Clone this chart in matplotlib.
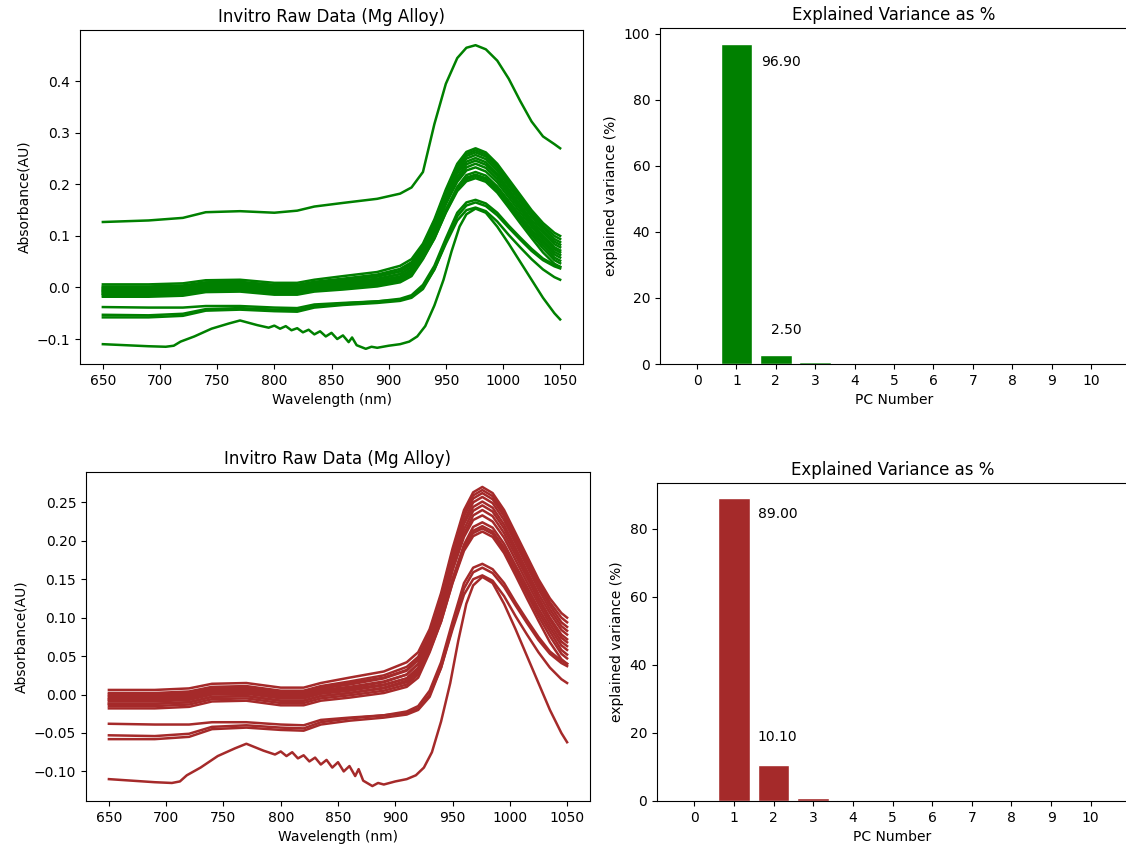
import numpy as np
import matplotlib.pyplot as plt

# ------------------------------------------------------------------
# spectra (absorbance vs wavelength)
# ------------------------------------------------------------------
wl = [650, 690, 720, 740, 770, 800, 820, 835, 860, 890, 910, 920, 930,
      940, 950, 960, 968, 976, 985, 995, 1005, 1015, 1025, 1035, 1045, 1050]

band_1 = [0.006, 0.006, 0.008, 0.014, 0.015, 0.009, 0.009, 0.015, 0.022, 0.030, 0.042, 0.055, 0.085,
          0.132, 0.190, 0.240, 0.263, 0.270, 0.262, 0.240, 0.210, 0.180, 0.150, 0.125, 0.106, 0.100]
band_2 = [0.002, 0.002, 0.004, 0.010, 0.011, 0.005, 0.005, 0.011, 0.017, 0.025, 0.036, 0.049, 0.080,
          0.128, 0.186, 0.236, 0.259, 0.266, 0.258, 0.236, 0.206, 0.176, 0.146, 0.120, 0.100, 0.094]
band_3 = [-0.002, -0.002, 0.000, 0.007, 0.008, 0.002, 0.002, 0.008, 0.013, 0.021, 0.031, 0.045, 0.077,
          0.124, 0.182, 0.232, 0.255, 0.262, 0.254, 0.232, 0.202, 0.172, 0.142, 0.116, 0.094, 0.088]
band_4 = [-0.006, -0.006, -0.004, 0.003, 0.004, -0.002, -0.002, 0.004, 0.009, 0.016, 0.026, 0.040, 0.072,
          0.118, 0.176, 0.226, 0.250, 0.257, 0.249, 0.227, 0.197, 0.167, 0.137, 0.111, 0.089, 0.083]
band_5 = [0.000, 0.000, 0.002, 0.009, 0.010, 0.004, 0.004, 0.010, 0.015, 0.022, 0.032, 0.046, 0.076,
          0.120, 0.176, 0.222, 0.244, 0.251, 0.243, 0.221, 0.191, 0.161, 0.131, 0.106, 0.084, 0.078]
band_6 = [-0.009, -0.009, -0.007, 0.000, 0.001, -0.005, -0.005, 0.001, 0.005, 0.012, 0.021, 0.035, 0.068,
          0.112, 0.168, 0.215, 0.239, 0.246, 0.238, 0.216, 0.186, 0.156, 0.126, 0.100, 0.078, 0.072]
band_7 = [-0.012, -0.012, -0.010, -0.003, -0.002, -0.008, -0.008, -0.002, 0.002, 0.009, 0.018, 0.031, 0.062,
          0.106, 0.162, 0.209, 0.233, 0.240, 0.232, 0.210, 0.181, 0.152, 0.123, 0.097, 0.074, 0.068]
band_8 = [-0.004, -0.004, -0.002, 0.005, 0.006, 0.000, 0.000, 0.006, 0.010, 0.017, 0.026, 0.040, 0.068,
          0.110, 0.162, 0.205, 0.227, 0.233, 0.225, 0.204, 0.175, 0.146, 0.118, 0.092, 0.069, 0.063]
band_9 = [-0.015, -0.015, -0.013, -0.006, -0.005, -0.011, -0.011, -0.005, -0.001, 0.005, 0.013, 0.026, 0.058,
          0.098, 0.150, 0.195, 0.218, 0.224, 0.217, 0.196, 0.168, 0.140, 0.112, 0.087, 0.064, 0.058]
band_10 = [-0.018, -0.018, -0.016, -0.009, -0.008, -0.014, -0.014, -0.008, -0.004, 0.002, 0.010, 0.022, 0.055,
           0.095, 0.146, 0.190, 0.213, 0.219, 0.212, 0.191, 0.163, 0.135, 0.107, 0.082, 0.058, 0.052]
band_11 = [-0.007, -0.007, -0.005, 0.002, 0.003, -0.003, -0.003, 0.003, 0.007, 0.013, 0.021, 0.034, 0.062,
           0.100, 0.150, 0.192, 0.210, 0.216, 0.209, 0.188, 0.160, 0.131, 0.102, 0.076, 0.053, 0.047]
band_12 = [-0.012, -0.012, -0.010, -0.003, -0.002, -0.008, -0.008, -0.002, 0.002, 0.008, 0.016, 0.029, 0.057,
           0.095, 0.145, 0.187, 0.206, 0.212, 0.205, 0.184, 0.155, 0.125, 0.096, 0.068, 0.046, 0.040]

low_a = [-0.038, -0.039, -0.039, -0.036, -0.036, -0.039, -0.040, -0.033, -0.030, -0.027, -0.024, -0.018, 0.000,
         0.035, 0.085, 0.130, 0.150, 0.155, 0.148, 0.128, 0.102, 0.078, 0.055, 0.035, 0.020, 0.015]
low_b1 = [-0.053, -0.054, -0.051, -0.042, -0.040, -0.043, -0.044, -0.036, -0.031, -0.027, -0.022, -0.015, 0.005,
          0.042, 0.095, 0.145, 0.165, 0.170, 0.163, 0.145, 0.120, 0.097, 0.075, 0.056, 0.044, 0.040]
low_b2 = [-0.058, -0.058, -0.055, -0.045, -0.043, -0.046, -0.047, -0.039, -0.034, -0.030, -0.026, -0.020, -0.003,
          0.035, 0.088, 0.138, 0.159, 0.165, 0.158, 0.140, 0.116, 0.093, 0.071, 0.053, 0.041, 0.037]

spectra = [band_1, band_2, band_3, band_4, band_5, band_6, band_7, band_8,
           band_9, band_10, band_11, band_12, low_a, low_b1, low_b2]

# outlier spectrum (only in the first data set)
outlier = [0.127, 0.130, 0.135, 0.146, 0.148, 0.145, 0.149, 0.157, 0.164, 0.172, 0.182, 0.194, 0.224,
           0.317, 0.395, 0.445, 0.465, 0.470, 0.462, 0.440, 0.405, 0.362, 0.322, 0.293, 0.278, 0.270]

# noisy lowest spectrum, own wavelength grid
wl_noisy = [650, 670, 690, 705, 712, 718, 730, 745, 760, 770, 775, 785, 795, 800, 805, 810, 815, 820,
            825, 830, 835, 840, 845, 850, 855, 860, 865, 868, 872, 880, 885, 890, 900, 910, 918,
            925, 932, 940, 948, 955, 962, 968, 976, 985, 995, 1005, 1015, 1025, 1035, 1045, 1050]
noisy = [-0.110, -0.112, -0.114, -0.115, -0.113, -0.105, -0.095, -0.080, -0.070, -0.064, -0.067, -0.073,
         -0.078, -0.074, -0.080, -0.075, -0.083, -0.079, -0.087, -0.082, -0.091, -0.085, -0.095, -0.088,
         -0.100, -0.093, -0.106, -0.097, -0.112, -0.119, -0.115, -0.117, -0.113, -0.110, -0.105,
         -0.095, -0.075, -0.035, 0.015, 0.070, 0.118, 0.142, 0.153, 0.145, 0.118, 0.085, 0.050,
         0.015, -0.020, -0.050, -0.062]

# ------------------------------------------------------------------
# explained variance per principal component
# ------------------------------------------------------------------
pc_number = [0, 1, 2, 3, 4, 5, 6, 7, 8, 9, 10]
var_all = [0, 96.9, 2.85, 0.6, 0.1, 0.05, 0.03, 0.02, 0.01, 0.01, 0.0]
var_clean = [0, 89.0, 10.5, 1.0, 0.2, 0.1, 0.05, 0.03, 0.02, 0.01, 0.0]
labels_all = ['96.90', '2.50']
labels_clean = ['89.00', '10.10']

W, H = 1126, 850
fig = plt.figure(figsize=(W / 100, H / 100), dpi=100)


def box(left, top, right, bottom):
    return [left / W, 1 - bottom / H, (right - left) / W, (bottom - top) / H]


ax_tl = fig.add_axes(box(80, 30, 583, 364))
ax_tr = fig.add_axes(box(660, 28, 1128, 364))
ax_bl = fig.add_axes(box(86, 472, 590, 801))
ax_br = fig.add_axes(box(657, 483, 1128, 801))


def draw_spectra(ax, color, with_outlier):
    if with_outlier:
        ax.plot(wl, outlier, color=color, lw=1.8)
    for s in spectra:
        ax.plot(wl, s, color=color, lw=1.8)
    ax.plot(wl_noisy, noisy, color=color, lw=1.8)
    ax.set_title('Invitro Raw Data (Mg Alloy)')
    ax.set_xlabel('Wavelength (nm)')
    ax.set_ylabel('Absorbance(AU)')


def draw_variance(ax, values, labels, pos, color):
    ax.bar(pc_number, values, color=color, edgecolor='white', width=0.8)
    for (x, y), t in zip(pos, labels):
        ax.text(x, y, t, ha='left', va='center')
    ax.set_xticks(pc_number)
    ax.set_title('Explained Variance as %')
    ax.set_xlabel('PC Number')
    ax.set_ylabel('explained variance (%)')


draw_spectra(ax_tl, 'green', True)
draw_spectra(ax_bl, 'brown', False)
draw_variance(ax_tr, var_all, labels_all, [(1.62, 91.5), (1.88, 10.2)], 'green')
draw_variance(ax_br, var_clean, labels_clean, [(1.6, 84.4), (1.6, 18.9)], 'brown')

fig.savefig('out.png', dpi=100)
